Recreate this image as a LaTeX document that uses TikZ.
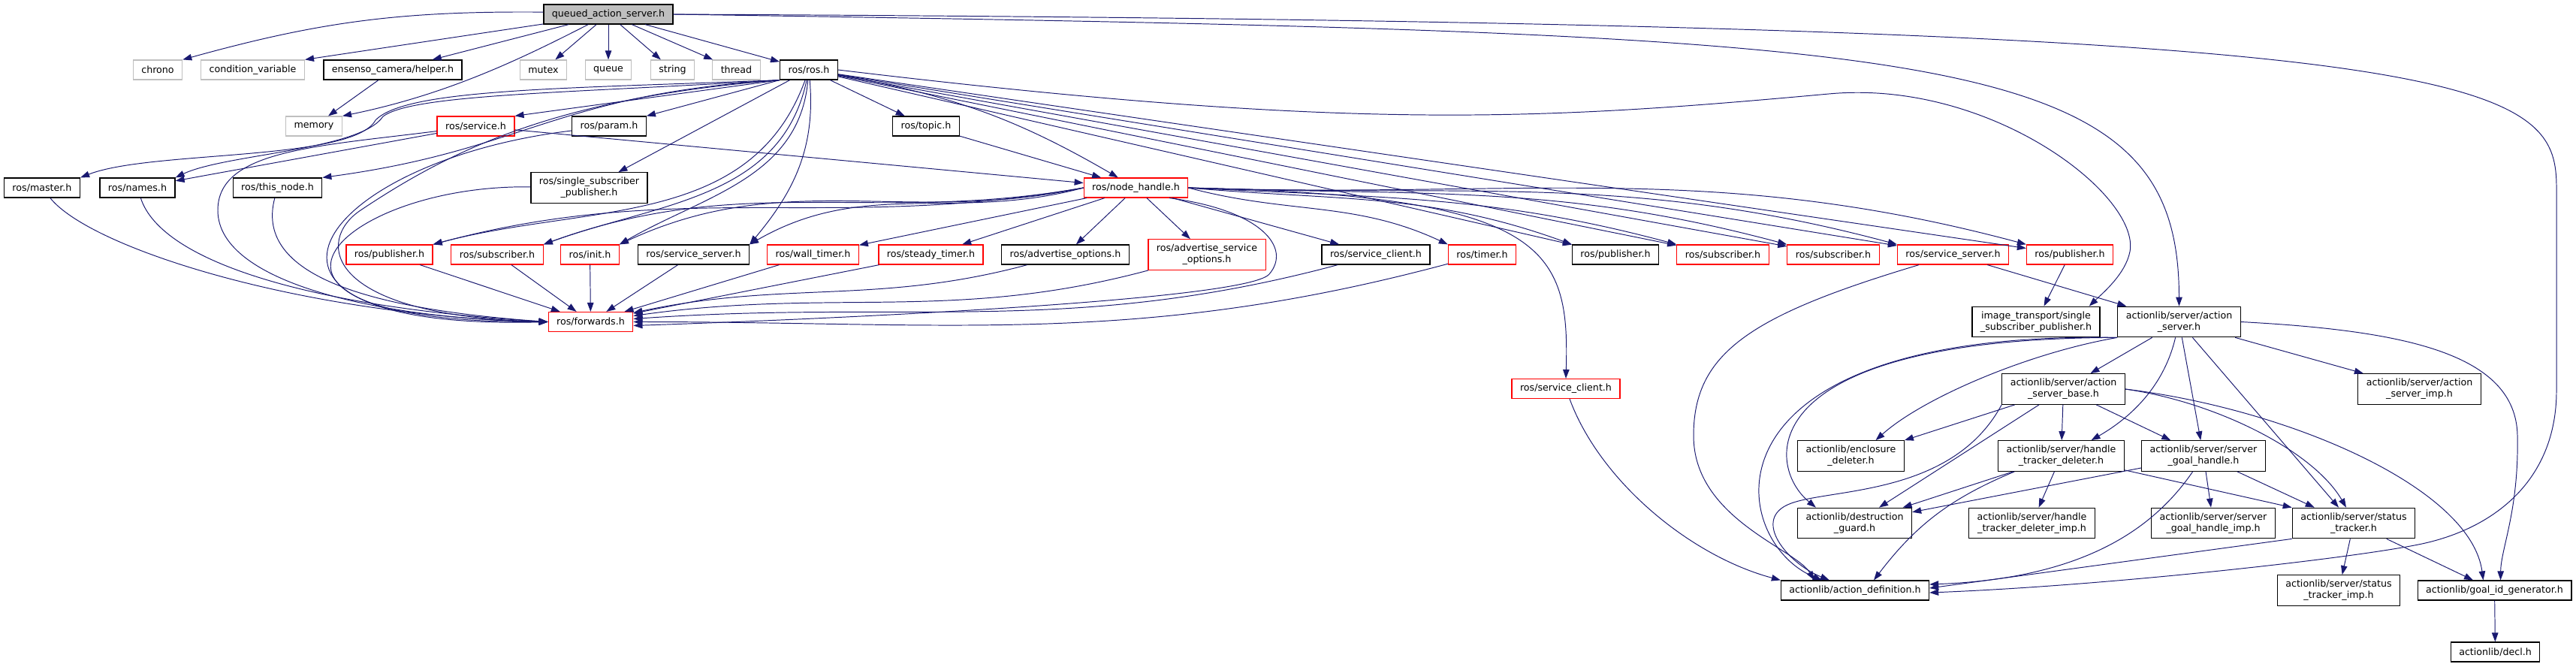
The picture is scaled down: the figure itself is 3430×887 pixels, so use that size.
\documentclass[tikz,border=0pt]{standalone}
\usepackage{fontspec}
\setmainfont{DejaVu Sans}
\usetikzlibrary{arrows.meta, calc}
\definecolor{edgeblue}{HTML}{191970}

\tikzset{
  hdr/.style={draw=black, fill=white, line width=0.7pt, font=\fontsize{7.2}{8.5}\selectfont,
    inner xsep=0.22cm, inner ysep=0.13cm, minimum height=0.52cm, align=center},
  hdrred/.style={hdr, draw=red},
  hdrsys/.style={hdr, draw=gray!50},
  hdrmain/.style={hdr, fill=gray!50},
  dep/.style={draw=edgeblue, line width=0.55pt, -{Triangle[length=0.24cm,width=0.17cm]}}
}

\begin{document}
\begin{tikzpicture}[x=0.02cm, y=0.02cm]
    \path[use as bounding box, fill=white] (0,0) rectangle (3430,-887);

    % Draw the file and its direct includes
    \node[hdrmain] (queued) at (810,-19) {queued\_action\_server.h};
    \node[hdrsys] (chrono) at (210,-93) {chrono};
    \node[hdrsys] (condvar) at (336.5,-93) {condition\_variable};
    \node[hdr] (helper) at (523,-93) {ensenso\_camera/helper.h};
    \node[hdrsys] (mutex) at (723.5,-93) {mutex};
    \node[hdrsys] (queue) at (810,-93) {queue};
    \node[hdrsys] (string) at (895.5,-93) {string};
    \node[hdrsys] (thread) at (980.5,-93) {thread};
    \node[hdr] (ros) at (1077,-93) {ros/ros.h};

    % Draw the ros headers
    \node[hdrsys] (memory) at (418,-168) {memory};
    \node[hdrred] (service) at (633.5,-168) {ros/service.h};
    \node[hdr] (param) at (811,-168) {ros/param.h};
    \node[hdr] (topic) at (1233,-168) {ros/topic.h};
    \node[hdr] (master) at (56,-250) {ros/master.h};
    \node[hdr] (names) at (183,-250) {ros/names.h};
    \node[hdr] (thisnode) at (369.5,-250) {ros/this\_node.h};
    \node[hdr] (singlesub) at (784.5,-250) {ros/single\_subscriber\\\_publisher.h};
    \node[hdrred] (nodehandle) at (1512.5,-250) {ros/node\_handle.h};

    \node[hdrred] (pubA) at (518.5,-339) {ros/publisher.h};
    \node[hdrred] (subA) at (662,-339) {ros/subscriber.h};
    \node[hdrred] (init) at (785.5,-339) {ros/init.h};
    \node[hdr] (srvsrvA) at (923.5,-339) {ros/service\_server.h};
    \node[hdrred] (walltimer) at (1082.5,-339) {ros/wall\_timer.h};
    \node[hdrred] (steadytimer) at (1239.5,-339) {ros/steady\_timer.h};
    \node[hdr] (advopts) at (1418.5,-339) {ros/advertise\_options.h};
    \node[hdrred] (advsrvopts) at (1607,-339) {ros/advertise\_service\\\_options.h};
    \node[hdr] (srvclientA) at (1832,-339) {ros/service\_client.h};
    \node[hdrred] (timer) at (1973.5,-339) {ros/timer.h};
    \node[hdr] (pubB) at (2151,-339) {ros/publisher.h};
    \node[hdrred] (subB) at (2294,-339) {ros/subscriber.h};
    \node[hdrred] (subC) at (2441,-339) {ros/subscriber.h};
    \node[hdrred] (srvsrvB) at (2600.5,-339) {ros/service\_server.h};
    \node[hdrred] (pubC) at (2756,-339) {ros/publisher.h};
    \node[hdrred] (forwards) at (786.5,-428.5) {ros/forwards.h};
    \node[hdrred] (srvclientB) at (2085,-517.5) {ros/service\_client.h};

    % Draw the actionlib headers
    \node[hdr] (imgtrans) at (2711,-428.5) {image\_transport/single\\\_subscriber\_publisher.h};
    \node[hdr] (actsrv) at (2901.5,-428.5) {actionlib/server/action\\\_server.h};
    \node[hdr] (actsrvbase) at (2747.5,-518) {actionlib/server/action\\\_server\_base.h};
    \node[hdr] (actsrvimp) at (3221.5,-518) {actionlib/server/action\\\_server\_imp.h};
    \node[hdr] (encdel) at (2464.5,-607) {actionlib/enclosure\\\_deleter.h};
    \node[hdr] (htdel) at (2744.5,-607) {actionlib/server/handle\\\_tracker\_deleter.h};
    \node[hdr] (sgh) at (2934,-607) {actionlib/server/server\\\_goal\_handle.h};
    \node[hdr] (dguard) at (2469.5,-696.5) {actionlib/destruction\\\_guard.h};
    \node[hdr] (htdelimp) at (2705.5,-696.5) {actionlib/server/handle\\\_tracker\_deleter\_imp.h};
    \node[hdr] (sghimp) at (2947,-696.5) {actionlib/server/server\\\_goal\_handle\_imp.h};
    \node[hdr] (stattrk) at (3134,-696.5) {actionlib/server/status\\\_tracker.h};
    \node[hdr] (actdef) at (2470,-786) {actionlib/action\_definition.h};
    \node[hdr] (stattrkimp) at (3114,-786) {actionlib/server/status\\\_tracker\_imp.h};
    \node[hdr] (goalid) at (3321.5,-786) {actionlib/goal\_id\_generator.h};
    \node[hdr] (decl) at (3322.5,-868) {actionlib/decl.h};

    % Draw the includes of queued_action_server.h
    \draw[dep] (queued) to[bend right=8] (chrono.north east);
    \draw[dep] (queued) -- (condvar.north east);
    \draw[dep] (queued) -- (helper);
    \draw[dep] (queued) .. controls (700,-75) and (600,-125) .. (memory.north east);
    \draw[dep] (queued) -- (mutex);
    \draw[dep] (queued) -- (queue);
    \draw[dep] (queued) -- (string);
    \draw[dep] (queued) -- (thread);
    \draw[dep] (queued) -- (ros);
    \draw[dep] (queued.east) .. controls (2600,-45) and (2901,-60) .. (actsrv.north);
    \draw[dep] (queued.east) .. controls (3300,-30) and (3404,-100) .. (3404,-250) -- (3404,-520)
        .. controls (3404,-640) and (3320,-705) .. (3220,-725)
        .. controls (3120,-745) and (2800,-780) .. ($(actdef.east)+(0,-3)$);
    \draw[dep] (helper) -- (memory);

    % Draw the includes of ros/ros.h
    \draw[dep] (ros.south west) .. controls (750,-118) and (540,-118) .. (500,-160)
        .. controls (470,-215) and (200,-200) .. (master.north east);
    \draw[dep] (ros.south west) .. controls (760,-124) and (550,-125) .. (510,-155)
        .. controls (480,-200) and (300,-205) .. (names.north east);
    \draw[dep] (ros.south west) -- (service.north east);
    \draw[dep] (ros.south west) -- (param.north east);
    \draw[dep] (ros) -- (topic);
    \draw[dep] (ros) to[bend left=10] (nodehandle);
    \draw[dep] (ros.south west) .. controls (740,-125) and (700,-200) .. (thisnode.north east);
    \draw[dep] (ros) -- (singlesub);
    \draw[dep] (ros.south west) .. controls (740,-130) and (600,-200) .. (480,-280)
        .. controls (420,-320) and (430,-420) .. (forwards.west);
    \draw[dep] (ros) to[out=250,in=15] (pubA.north east);
    \draw[dep] (ros) to[out=258,in=20] (subA.north east);
    \draw[dep] (ros) to[out=265,in=30] (init.north east);
    \draw[dep] (ros) to[out=275,in=50] (srvsrvA.north east);
    \draw[dep] (ros) -- (pubB);
    \draw[dep] (ros) -- (subB);
    \draw[dep] (ros) -- (subC);
    \draw[dep] (ros) -- (srvsrvB);
    \draw[dep] (ros) -- (pubC);
    \draw[dep] (ros.east) .. controls (1800,-175) and (2050,-160) .. (2435,-125)
        .. controls (2650,-105) and (2850,-260) .. (2836,-335)
        .. controls (2830,-365) and (2800,-390) .. ($(imgtrans.north east)+(-15,0)$);

    % Draw the second row includes
    \draw[dep] (service) -- (names);
    \draw[dep] (service) -- (nodehandle);
    \draw[dep] (service) .. controls (420,-195) and (290,-200) .. (290,-280)
        .. controls (290,-380) and (520,-425) .. (forwards.west);
    \draw[dep] (param) .. controls (420,-215) and (260,-440) .. (forwards.west);
    \draw[dep] (topic) -- (nodehandle);
    \draw[dep] (master) .. controls (120,-330) and (400,-420) .. (forwards.west);
    \draw[dep] (names) .. controls (215,-350) and (420,-410) .. (forwards.west);
    \draw[dep] (thisnode) .. controls (340,-360) and (470,-410) .. (forwards.west);
    \draw[dep] (singlesub) .. controls (450,-245) and (260,-430) .. (forwards.west);

    % Draw the includes of ros/node_handle.h
    \draw[dep] (nodehandle.west) to[out=190,in=15] (pubA.north east);
    \draw[dep] (nodehandle.west) to[out=190,in=20] (subA.north east);
    \draw[dep] (nodehandle.west) to[out=192,in=25] (init.north east);
    \draw[dep] (nodehandle.west) to[out=195,in=30] (srvsrvA.north east);
    \draw[dep] (nodehandle) -- (walltimer);
    \draw[dep] (nodehandle) -- (steadytimer);
    \draw[dep] (nodehandle) -- (advopts);
    \draw[dep] (nodehandle) -- (advsrvopts);
    \draw[dep] (nodehandle) -- (srvclientA);
    \draw[dep] (nodehandle.east) to[out=-15,in=155] (timer.north west);
    \draw[dep] (nodehandle.east) to[out=-5,in=160] (pubB.north west);
    \draw[dep] (nodehandle.east) to[out=-3,in=165] (subB.north west);
    \draw[dep] (nodehandle.east) to[out=-2,in=165] (subC.north west);
    \draw[dep] (nodehandle.east) to[out=-2,in=165] (srvsrvB.north west);
    \draw[dep] (nodehandle.east) to[out=-2,in=165] (pubC.north west);
    \draw[dep] (nodehandle.east) .. controls (2060,-260) and (2090,-330) .. (srvclientB.north);
    \draw[dep] (nodehandle.-17) .. controls (1680,-280) and (1720,-330) .. (1690,-365)
        .. controls (1660,-400) and (1100,-425) .. (forwards.-5);

    % Draw the links to ros/forwards.h
    \draw[dep] (pubA) -- (forwards);
    \draw[dep] (subA) -- (forwards);
    \draw[dep] (init) -- (forwards);
    \draw[dep] (srvsrvA) -- (forwards);
    \draw[dep] (walltimer) -- (forwards);
    \draw[dep] (steadytimer) -- (forwards);
    \draw[dep] (advopts.195) to[out=195,in=12] (forwards.12);
    \draw[dep] (advsrvopts.195) to[out=195,in=8] (forwards.8);
    \draw[dep] (srvclientA.195) to[out=195,in=4] (forwards.4);
    \draw[dep] (timer.195) to[out=195,in=0] (forwards.east);

    % Draw the right part
    \draw[dep] (pubC) -- (imgtrans);
    \draw[dep] (srvsrvB) -- (actsrv);
    \draw[dep] (srvsrvB) .. controls (2330,-420) and (2255,-470) .. (2255,-580)
        .. controls (2255,-690) and (2390,-730) .. ($(actdef.north west)+(45,0)$);
    \draw[dep] (srvclientB) .. controls (2130,-640) and (2250,-740) .. (actdef.north west);

    \draw[dep] (actsrv) -- (actsrvbase);
    \draw[dep] (actsrv) -- (actsrvimp);
    \draw[dep] (actsrv.south west) .. controls (2700,-470) and (2560,-530) .. ($(encdel.north)+(33,0)$);
    \draw[dep] (actsrv.south west) .. controls (2250,-440) and (2300,-720) .. ($(actdef.north west)+(55,0)$);
    \draw[dep] (actsrv.south west) .. controls (2330,-450) and (2350,-620) .. ($(dguard.north west)+(25,0)$);
    \draw[dep] (actsrv) .. controls (2880,-520) and (2830,-560) .. ($(htdel.north)+(40,0)$);
    \draw[dep] (actsrv) -- (sgh);
    \draw[dep] (actsrv) -- ($(stattrk.north)+(-20,0)$);
    \draw[dep] (actsrv.east) .. controls (3200,-440) and (3350,-470) .. (3352,-580)
        .. controls (3354,-680) and (3330,-730) .. ($(goalid.north)+(8,0)$);

    \draw[dep] (actsrvbase) -- (encdel.north east);
    \draw[dep] (actsrvbase) -- (dguard);
    \draw[dep] (actsrvbase.south west) .. controls (2600,-660) and (2440,-650) .. (2385,-670)
        .. controls (2330,-690) and (2380,-750) .. ($(actdef.north west)+(65,0)$);
    \draw[dep] (actsrvbase) -- (htdel);
    \draw[dep] (actsrvbase) -- (sgh);
    \draw[dep] (actsrvbase.east) .. controls (2950,-535) and (3080,-600) .. ($(stattrk.north)+(-10,0)$);
    \draw[dep] (actsrvbase.east) .. controls (3050,-545) and (3290,-650) .. ($(goalid.north)+(-15,0)$);

    \draw[dep] (htdel) -- (dguard);
    \draw[dep] (htdel) to[bend right=15] ($(actdef.north)+(25,0)$);
    \draw[dep] (htdel) -- (htdelimp);
    \draw[dep] (htdel) -- (stattrk.north west);

    \draw[dep] (sgh) -- (dguard);
    \draw[dep] (sgh) .. controls (2870,-700) and (2780,-770) .. ($(actdef.east)+(0,8)$);
    \draw[dep] (sgh) -- (sghimp);
    \draw[dep] (sgh) -- ($(stattrk.north west)+(30,0)$);

    \draw[dep] (stattrk.south west) -- ($(actdef.east)+(0,3)$);
    \draw[dep] (stattrk) -- (stattrkimp);
    \draw[dep] (stattrk) -- (goalid);
    \draw[dep] (goalid) -- (decl);
\end{tikzpicture}
\end{document}
